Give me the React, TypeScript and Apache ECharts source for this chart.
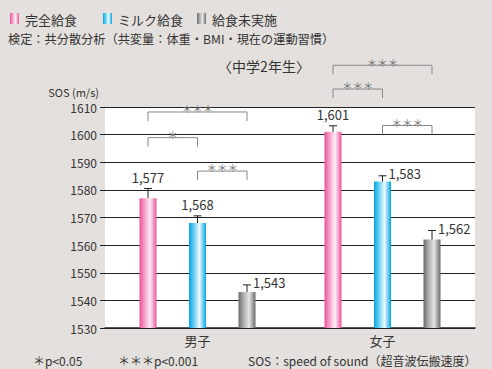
import React, { useEffect, useRef } from "react";
import * as echarts from "echarts";

const categories = ["男子", "女子"];
const seriesNames = ["完全給食", "ミルク給食", "給食未実施"];
const valuesFull = [1577, 1601];
const valuesMilk = [1568, 1583];
const valuesNone = [1543, 1562];
const errFull = [3.5, 2.2];
const errMilk = [2.6, 2.1];
const errNone = [2.6, 3.3];
// label placement per bar: "top" or "right"
const labelPosFull = ["top", "top"];
const labelPosMilk = ["top", "right"];
const labelPosNone = ["right", "right"];
// brackets: [categoryIndex, fromSeries, toSeries, yValue, text]
const brackets: [number, number, number, number, string][] = [
  [0, 0, 2, 1608.2, "＊＊＊"],
  [0, 0, 1, 1598.9, "＊"],
  [0, 1, 2, 1586.8, "＊＊＊"],
  [1, 0, 2, 1625.1, "＊＊＊"],
  [1, 0, 1, 1616.5, "＊＊＊"],
  [1, 1, 2, 1603.3, "＊＊＊"],
];
const yTicks = [1530, 1540, 1550, 1560, 1570, 1580, 1590, 1600, 1610];

const FONT = "'Noto Sans CJK JP', 'Noto Sans', sans-serif";
const BAR_W = 17;
const BAR_GAP = 32.5 / 17;
const STEP = BAR_W * (1 + BAR_GAP);

function grad(c1: string, c2: string, c3: string) {
  return new echarts.graphic.LinearGradient(0, 0, 1, 0, [
    { offset: 0, color: c1 },
    { offset: 0.25, color: c2 },
    { offset: 0.62, color: c3 },
    { offset: 1, color: c1 },
  ]);
}
const pinkGrad = () => grad("#e8529a", "#f294c0", "#fdf0f6");
const blueGrad = () => grad("#00a6e4", "#57c8f0", "#eefaff");
const grayGrad = () => grad("#6a6a6a", "#a4a4a4", "#e6e6e6");

export default function App() {
  const ref = useRef<HTMLDivElement>(null);
  useEffect(() => {
    document.body.style.margin = "0";
    const chart = echarts.init(ref.current!, undefined, { renderer: "svg" });
    const vals = [valuesFull, valuesMilk, valuesNone];
    const errs = [errFull, errMilk, errNone];
    const lpos = [labelPosFull, labelPosMilk, labelPosNone];
    const errData: any[] = [];
    for (let s = 0; s < 3; s++) {
      for (let c = 0; c < categories.length; c++) {
        errData.push([c, vals[s][c], errs[s][c], s, lpos[s][c] === "top" ? 0 : 1]);
      }
    }
    const grads = [pinkGrad(), blueGrad(), grayGrad()];
    const legendX = [10, 103, 197];
    const graphic: any[] = [];
    seriesNames.forEach((n, i) => {
      graphic.push({
        type: "rect",
        shape: { x: legendX[i], y: 13, width: 9, height: 11 },
        style: { fill: [pinkGrad(), blueGrad(), grayGrad()][i] },
      });
      graphic.push({
        type: "text",
        x: legendX[i] + 15,
        y: 19,
        style: { text: n, font: `13px ${FONT}`, fill: "#333", verticalAlign: "middle" },
      });
    });
    graphic.push({
      type: "text",
      x: 8,
      y: 39,
      style: {
        text: "検定：共分散分析（共変量：体重・BMI・現在の運動習慣）",
        font: `12.2px ${FONT}`,
        fill: "#333",
        verticalAlign: "middle",
      },
    });
    graphic.push({
      type: "text",
      x: 264,
      y: 66,
      style: { text: "〈中学2年生〉", font: `14px ${FONT}`, fill: "#333", align: "center", verticalAlign: "middle" },
    });
    graphic.push({
      type: "text",
      x: 99,
      y: 92,
      style: { text: "SOS (m/s)", font: `11px ${FONT}`, fill: "#333", align: "right", verticalAlign: "middle" },
    });
    const foot = [
      [33, "＊p<0.05"],
      [118, "＊＊＊p<0.001"],
      [248, "SOS：speed of sound（超音波伝搬速度）"],
    ];
    foot.forEach(([x, t]) =>
      graphic.push({
        type: "text",
        x,
        y: 360,
        style: { text: t, font: `12px ${FONT}`, fill: "#333", verticalAlign: "middle" },
      })
    );

    chart.setOption({
      animation: false,
      backgroundColor: "#e4e0dd",
      grid: { left: 105, right: 17, top: 107, bottom: 41, show: true, backgroundColor: "#ffffff", borderWidth: 0 },
      xAxis: {
        type: "category",
        data: categories,
        axisLine: { show: true, lineStyle: { color: "#222", width: 1.5 } },
        axisTick: { show: false },
        axisLabel: { color: "#333", fontSize: 13, fontFamily: FONT, margin: 6 },
      },
      yAxis: {
        type: "value",
        min: 1530,
        max: 1610,
        interval: 10,
        axisLine: { show: false },
        axisTick: { show: true, length: 5, lineStyle: { color: "#222" } },
        axisLabel: {
          color: "#333",
          fontSize: 12,
          fontFamily: FONT,
          margin: 8,
          customValues: yTicks,
          formatter: (v: number) => String(v),
        },
        splitLine: { show: true, lineStyle: { color: "#222", width: 1 } },
      },
      graphic,
      series: [
        ...vals.map((v, i) => ({
          type: "bar",
          name: seriesNames[i],
          data: v,
          barWidth: BAR_W,
          barGap: BAR_GAP * 100 + "%",
          itemStyle: { color: grads[i] },
          z: 2,
        })),
        {
          type: "custom",
          data: errData,
          encode: { x: 0, y: 1 },
          clip: false,
          z: 3,
          renderItem: (params: any, api: any) => {
            const c = api.value(0);
            const v = api.value(1);
            const e = api.value(2);
            const s = api.value(3);
            const pos = api.value(4);
            const base = api.coord([c, v]);
            const topP = api.coord([c, v + e]);
            const x = base[0] + (s - 1) * STEP;
            const label = v.toLocaleString("en-US");
            const children: any[] = [
              { type: "line", shape: { x1: x, y1: base[1], x2: x, y2: topP[1] }, style: { stroke: "#222", lineWidth: 1 } },
              { type: "line", shape: { x1: x - 4, y1: topP[1], x2: x + 4, y2: topP[1] }, style: { stroke: "#222", lineWidth: 1 } },
            ];
            if (pos === 0) {
              children.push({
                type: "text",
                x,
                y: topP[1] - 11,
                style: { text: label, font: `13px ${FONT}`, fill: "#333", align: "center", verticalAlign: "middle" },
              });
            } else {
              children.push({
                type: "text",
                x: x + 6,
                y: topP[1] - 2,
                style: { text: label, font: `13px ${FONT}`, fill: "#333", align: "left", verticalAlign: "middle" },
              });
            }
            return { type: "group", children };
          },
        },
        {
          type: "custom",
          data: brackets.map((b) => [b[0], b[3], b[1], b[2], b[4]]),
          encode: { x: 0, y: 1 },
          clip: false,
          z: 4,
          renderItem: (params: any, api: any) => {
            const b = brackets[params.dataIndex];
            const p = api.coord([b[0], b[3]]);
            const x1 = p[0] + (b[1] - 1) * STEP;
            const x2 = p[0] + (b[2] - 1) * STEP;
            const y = p[1];
            return {
              type: "group",
              children: [
                {
                  type: "polyline",
                  shape: { points: [[x1, y + 9], [x1, y], [x2, y], [x2, y + 9]] },
                  style: { stroke: "#888", lineWidth: 1, fill: null },
                },
                {
                  type: "text",
                  x: (x1 + x2) / 2,
                  y: y + 2,
                  style: { text: b[4], font: `10.5px ${FONT}`, fill: "#777", align: "center", verticalAlign: "bottom" },
                },
              ],
            };
          },
        },
      ],
    });
    return () => chart.dispose();
  }, []);
  return <div ref={ref} style={{ width: 492, height: 369 }} />;
}
